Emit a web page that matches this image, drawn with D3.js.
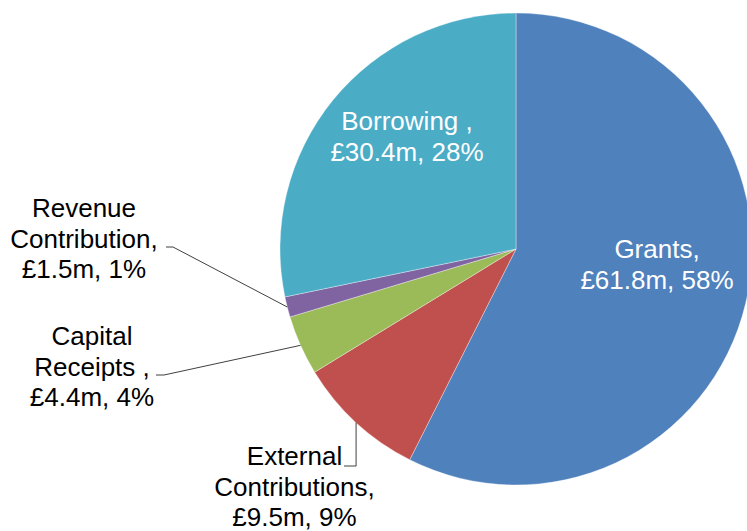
<!DOCTYPE html>
<html>
<head>
<meta charset="utf-8">
<script src="https://cdn.jsdelivr.net/npm/d3@7"></script>
<style>
  html, body { margin: 0; padding: 0; background: #fff; }
  svg { display: block; }
  text { font-family: "Liberation Sans", Arial, sans-serif; }
</style>
</head>
<body>
<svg id="chart" width="747" height="531"></svg>
<script>
// Capital funding sources (£m), clockwise from 12 o'clock
const categories = ["Grants", "External Contributions", "Capital Receipts", "Revenue Contribution", "Borrowing"];
const values = [61.8, 9.5, 4.4, 1.5, 30.4];
const labelLines = [
  ["Grants,", "£61.8m, 58%"],
  ["External", "Contributions,", "£9.5m, 9%"],
  ["Capital", "Receipts ,", "£4.4m, 4%"],
  ["Revenue", "Contribution,", "£1.5m, 1%"],
  ["Borrowing ,", "£30.4m, 28%"]
];
const colors = ["#4F81BD", "#C0504D", "#9BBB59", "#8064A2", "#4BACC6"];

const W = 747, H = 531;
const cx = 516, cy = 249, R = 236;
const fontSize = 26, lineH = 30.5;

// label layout: text block centre x, first baseline y, fill, optional leader
const labelLayout = [
  { x: 657, y: 258, fill: "#fff" },
  { x: 294.5, y: 465, fill: "#000", leader: "external", elbow: [344, 466] },
  { x: 92, y: 345, fill: "#000", leader: "side", elbow: [164, 375], end: 156 },
  { x: 84, y: 217, fill: "#000", leader: "side", elbow: [173, 247], end: 166 },
  { x: 407, y: 130, fill: "#fff" }
];

const data = categories.map((c, i) => ({ name: c, value: values[i], lines: labelLines[i], color: colors[i], layout: labelLayout[i] }));

const svg = d3.select("#chart");
const g = svg.append("g").attr("transform", `translate(${cx},${cy})`);

const pie = d3.pie().value(d => d.value).sort(null);
const arc = d3.arc().innerRadius(0).outerRadius(R);
const arcs = pie(data);

g.selectAll("path.slice")
  .data(arcs)
  .enter().append("path")
  .attr("class", "slice")
  .attr("d", arc)
  .attr("fill", d => d.data.color)
  .attr("stroke", "#ffffff")
  .attr("stroke-opacity", 0.6)
  .attr("stroke-width", 0.6);

// leader lines from the slice rim (at mid-angle) to the outside labels
const edgePoint = d => {
  const a = (d.startAngle + d.endAngle) / 2;
  return [cx + R * Math.sin(a), cy - R * Math.cos(a)];
};

const leaders = svg.append("g");
arcs.forEach(d => {
  const L = d.data.layout;
  if (!L.leader) return;
  const p = edgePoint(d);
  let pts;
  if (L.leader === "external") {
    pts = [p, [p[0], L.elbow[1]], L.elbow];
  } else {
    pts = [p, L.elbow, [L.end, L.elbow[1]]];
  }
  leaders.append("path")
    .attr("d", d3.line()(pts))
    .attr("fill", "none")
    .attr("stroke", "#404040")
    .attr("stroke-width", 1);
});

// data labels
const labels = svg.append("g");
arcs.forEach(d => {
  const L = d.data.layout;
  const t = labels.append("text")
    .attr("text-anchor", "middle")
    .attr("font-size", fontSize)
    .attr("fill", L.fill);
  d.data.lines.forEach((line, i) => {
    t.append("tspan")
      .attr("x", L.x)
      .attr("y", L.y + i * lineH)
      .text(line);
  });
});
</script>
</body>
</html>
